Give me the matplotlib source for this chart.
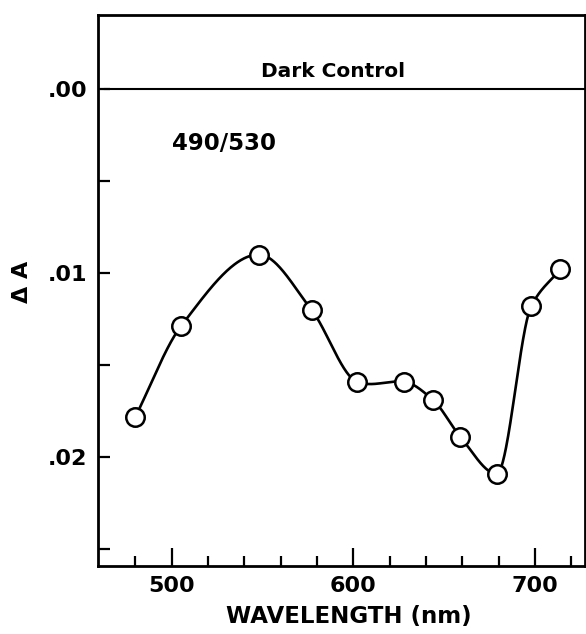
import numpy as np
import matplotlib
matplotlib.use("Agg")
import matplotlib.pyplot as plt
from matplotlib.ticker import FixedLocator, FuncFormatter

# ---- data ----
wavelength = [480, 505, 548, 577, 602, 628, 644, 659, 679, 698, 714]
delta_a = [0.0178, 0.0129, 0.0090, 0.0120, 0.0159, 0.0159, 0.0169, 0.0189, 0.0209, 0.0118, 0.0098]
x_major = [500, 600, 700]
x_minor = [480, 520, 540, 560, 580, 620, 640, 660, 680, 720]
y_ticks = [0.0, 0.005, 0.01, 0.015, 0.02, 0.025]
y_labels = {0.0: ".00", 0.01: ".01", 0.02: ".02"}
control_level = 0.0


def smooth_curve(x, y, xs):
    """Shape-preserving cubic Hermite curve through the points."""
    x = np.asarray(x, float); y = np.asarray(y, float)
    h = np.diff(x); d = np.diff(y) / h
    n = len(x); m = np.zeros(n)
    for k in range(1, n - 1):
        if d[k - 1] * d[k] > 0:
            w1 = 2 * h[k] + h[k - 1]; w2 = h[k] + 2 * h[k - 1]
            m[k] = (w1 + w2) / (w1 / d[k - 1] + w2 / d[k])
        elif d[k - 1] == 0 or d[k] == 0:
            m[k] = 0.5 * (y[k + 1] - y[k - 1]) / (x[k + 1] - x[k - 1])
    m[0] = d[0]; m[-1] = d[-1]
    out = np.empty_like(xs)
    for i, xv in enumerate(xs):
        k = min(max(np.searchsorted(x, xv) - 1, 0), n - 2)
        t = (xv - x[k]) / h[k]
        h00 = 2 * t**3 - 3 * t**2 + 1; h10 = t**3 - 2 * t**2 + t
        h01 = -2 * t**3 + 3 * t**2; h11 = t**3 - t**2
        out[i] = h00 * y[k] + h10 * h[k] * m[k] + h01 * y[k + 1] + h11 * h[k] * m[k + 1]
    return out


plt.rcParams['font.family'] = ['DejaVu Sans']
W, H = 586, 634
fig = plt.figure(figsize=(W / 100, H / 100), dpi=100)
L, R, T, B = 98, 585, 15, 566
ax = fig.add_axes([L / W, 1 - B / H, (R - L) / W, (B - T) / H])

xs = np.linspace(wavelength[0], wavelength[-1], 800)
ax.plot(xs, smooth_curve(wavelength, delta_a, xs), color='black', lw=1.9, zorder=2)
ax.plot(wavelength, delta_a, 'o', ms=13.3, mfc='white', mec='black', mew=1.8, zorder=3)

ax.plot([463, 800], [control_level, control_level], color='black', lw=1.5, zorder=1)
ax.text(589, -0.0004, "Dark Control", ha='center', va='bottom', fontsize=14.5, fontweight='bold')
ax.text(529, 0.0030, "490/530", ha='center', va='center', fontsize=16.5, fontweight='bold')

ax.set_xlim(459.4, 727.6)
ax.set_ylim(0.0259, -0.0040)

ax.xaxis.set_major_locator(FixedLocator(x_major))
ax.xaxis.set_minor_locator(FixedLocator(x_minor))
ax.yaxis.set_major_locator(FixedLocator(y_ticks))
ax.yaxis.set_major_formatter(FuncFormatter(lambda v, p: y_labels.get(round(v, 3), "")))
ax.tick_params(axis='x', which='major', direction='in', length=13, width=1.6, labelsize=16, pad=7)
ax.tick_params(axis='x', which='minor', direction='in', length=7.5, width=1.6)
ax.tick_params(axis='y', which='major', direction='in', length=8.5, width=1.6, labelsize=16, pad=8)
for lab in ax.get_xticklabels() + ax.get_yticklabels():
    lab.set_fontweight('bold')
for s in ax.spines.values():
    s.set_linewidth(2.0)

fig.text(((227 + 471) / 2) / W, 1 - 617 / H, "WAVELENGTH (nm)", ha='center', va='center',
         fontsize=16.5, fontweight='bold')
fig.text(22 / W, 1 - 282 / H, "Δ A", ha='center', va='center', rotation=90,
         fontsize=16, fontweight='bold')

fig.savefig("out.png", dpi=100)
